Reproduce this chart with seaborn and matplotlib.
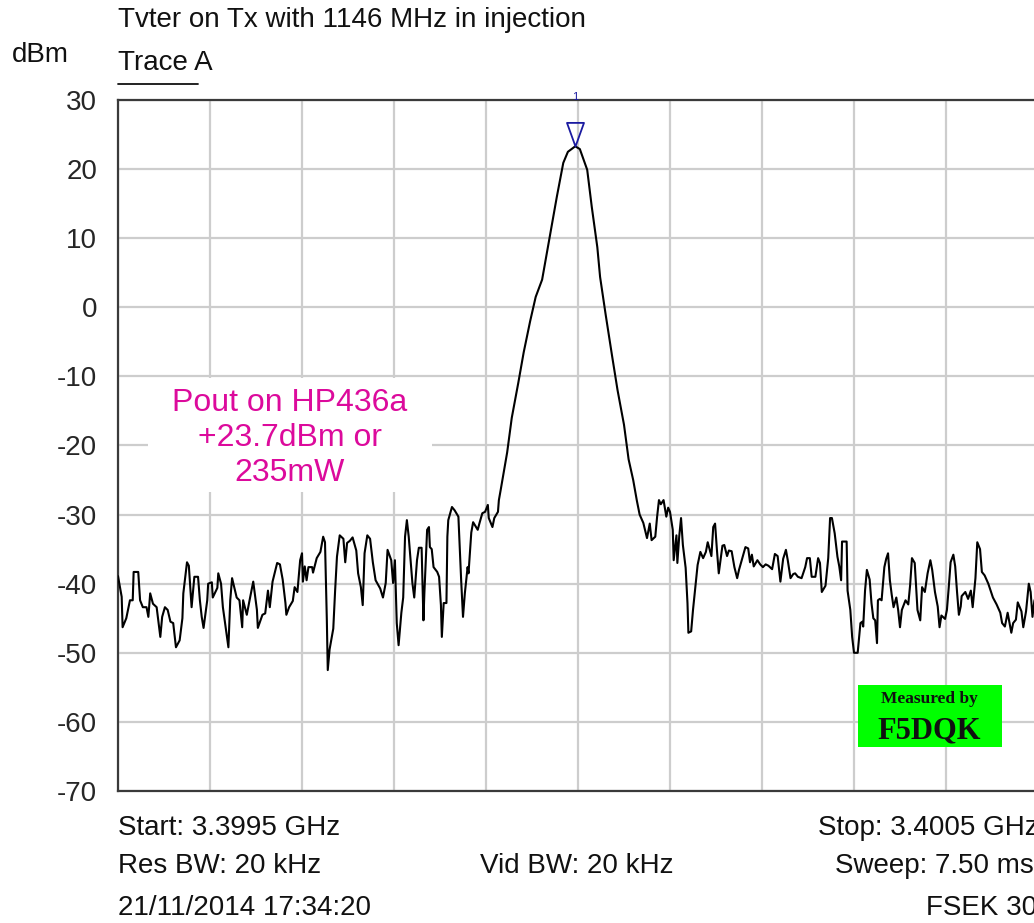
import numpy as np
import pandas as pd
import matplotlib
matplotlib.use("Agg")
import matplotlib.pyplot as plt
import seaborn as sns
from matplotlib.patches import Rectangle
from matplotlib.lines import Line2D
from matplotlib.path import Path

# ---------------- data ----------------
title = "Tvter on Tx with 1146 MHz in injection"
y_unit = "dBm"
trace_name = "Trace A"
y_ticks = [30, 20, 10, 0, -10, -20, -30, -40, -50, -60, -70]
x_grid_khz = [0, 100, 200, 300, 400, 500, 600, 700, 800, 900, 1000]

freq_khz = [0, 4, 5, 9, 13, 16, 17, 22, 24, 27, 31, 33, 35, 38, 42, 46, 48, 51, 54, 57,
            60, 63, 67, 70, 71, 75, 77, 80, 83, 87, 89, 91, 93, 97, 98, 102, 103, 108, 109, 112,
            114, 120, 122, 124, 126, 129, 132, 135, 136, 140, 143, 147, 151, 152, 157, 160, 163, 165, 168, 173,
            176, 179, 182, 183, 186, 190, 192, 195, 198, 200, 201, 203, 205, 207, 211, 212, 216, 220, 223, 225,
            227, 228, 230, 234, 236, 238, 241, 245, 247, 249, 252, 255, 259, 261, 264, 266, 268, 271, 274, 277,
            280, 285, 288, 291, 293, 297, 299, 301, 303, 305, 308, 310, 312, 314, 316, 320, 322, 325, 327, 330,
            332, 333, 336, 338, 339, 341, 343, 347, 349, 351, 352, 354, 357, 358, 359, 363, 366, 370, 373, 375,
            377, 380, 381, 384, 386, 390, 391, 393, 396, 399, 402, 403, 407, 409, 413, 414, 416, 423, 428, 435,
            441, 448, 454, 461, 470, 477, 484, 489, 497, 502, 510, 515, 521, 524, 530, 537, 543, 550, 555, 560,
            564, 567, 571, 575, 578, 580, 584, 586, 588, 590, 593, 596, 598, 600, 603, 604, 607, 608, 610, 612,
            614, 617, 619, 620, 623, 625, 628, 630, 633, 636, 639, 641, 645, 647, 649, 651, 653, 657, 659, 662,
            664, 667, 670, 673, 675, 678, 682, 685, 687, 689, 691, 695, 698, 701, 704, 707, 711, 714, 717, 720,
            723, 726, 728, 731, 734, 736, 739, 743, 747, 749, 752, 754, 758, 761, 763, 765, 769, 772, 774, 776,
            779, 782, 784, 786, 787, 792, 793, 796, 798, 800, 804, 807, 809, 810, 812, 814, 817, 819, 821, 823,
            825, 826, 828, 830, 833, 835, 837, 839, 841, 843, 846, 848, 850, 852, 856, 859, 861, 863, 866, 869,
            872, 874, 877, 880, 883, 885, 888, 891, 893, 895, 899, 901, 903, 905, 908, 910, 912, 914, 916, 917,
            921, 924, 927, 929, 932, 934, 937, 939, 942, 946, 949, 951, 955, 959, 961, 964, 967, 971, 973, 976,
            978, 982, 984, 987, 990, 992, 994, 996, 1000]

level_dbm = [-38.9, -41.9, -46.3, -45.0, -42.4, -42.4, -38.3, -38.3, -42.4, -43.4, -43.4, -44.8, -41.4, -42.9, -43.4, -47.7, -44.8, -43.4, -43.8, -45.5,
             -45.7, -49.2, -48.2, -45.0, -41.4, -36.9, -37.4, -43.4, -39.0, -39.0, -42.4, -44.8, -46.4, -42.4, -40.0, -39.8, -42.0, -40.6, -38.5, -40.0,
             -43.4, -49.2, -42.4, -39.2, -40.3, -42.0, -42.4, -46.3, -42.4, -44.5, -42.4, -39.7, -43.8, -46.4, -44.5, -44.3, -41.0, -43.4, -39.7, -37.0,
             -37.2, -39.4, -42.8, -44.5, -43.4, -42.5, -40.5, -41.2, -36.6, -35.6, -39.7, -37.5, -39.5, -37.6, -37.6, -38.4, -36.3, -35.4, -33.2, -34.0,
             -45.3, -52.5, -49.5, -46.5, -41.0, -36.1, -33.0, -33.5, -36.9, -34.1, -33.8, -33.3, -35.2, -38.5, -40.5, -43.1, -35.6, -33.0, -33.5, -36.9,
             -39.5, -40.7, -42.0, -39.9, -35.1, -36.6, -39.9, -36.6, -45.7, -48.9, -44.2, -42.0, -33.2, -30.8, -33.2, -39.9, -42.0, -36.6, -34.8, -34.8,
             -45.3, -41.4, -32.2, -31.8, -34.7, -35.0, -37.6, -38.3, -39.0, -43.1, -47.7, -42.8, -42.8, -33.2, -30.8, -28.9, -29.4, -30.3, -39.5, -44.8,
             -41.4, -37.6, -38.5, -32.6, -31.1, -32.0, -32.2, -31.2, -29.8, -29.6, -28.6, -30.5, -31.8, -30.5, -29.6, -27.9, -26.4, -21.0, -16.0, -11.0,
             -6.5, -2.0, 1.5, 4.0, 10.8, 16.0, 20.9, 22.5, 23.3, 22.9, 19.9, 14.5, 8.7, 4.4, -1.0, -7.0, -12.0, -17.0, -22.0, -25.0,
             -28.0, -30.0, -31.2, -33.4, -31.3, -33.7, -33.2, -30.3, -27.9, -28.5, -27.9, -30.3, -29.0, -29.6, -32.2, -36.6, -33.0, -37.0, -33.2, -30.5,
             -34.4, -37.7, -42.8, -47.1, -46.9, -43.8, -39.9, -37.3, -35.4, -36.3, -35.4, -34.0, -36.0, -31.8, -31.3, -35.1, -38.5, -34.5, -34.4, -36.0,
             -35.2, -35.3, -37.6, -39.2, -38.0, -36.6, -34.7, -34.9, -36.9, -35.8, -37.5, -36.6, -37.2, -37.6, -37.2, -37.4, -37.9, -35.7, -36.0, -39.7,
             -36.4, -35.1, -36.6, -39.2, -38.6, -38.5, -39.0, -39.2, -37.6, -36.3, -36.3, -39.0, -39.0, -36.3, -37.0, -41.2, -40.3, -36.3, -30.5, -30.5,
             -32.7, -36.1, -37.5, -39.5, -33.9, -33.9, -41.0, -43.8, -47.7, -50.0, -50.0, -45.7, -45.5, -46.2, -41.0, -38.0, -39.4, -42.8, -45.0, -45.3,
             -48.6, -42.4, -42.2, -42.4, -37.6, -36.4, -35.6, -39.5, -41.6, -43.4, -42.0, -43.8, -46.3, -43.8, -42.4, -43.0, -40.2, -36.3, -37.0, -43.8,
             -45.3, -40.5, -41.2, -38.5, -36.6, -38.0, -41.2, -43.3, -46.3, -44.6, -45.1, -43.8, -40.5, -36.9, -35.8, -37.5, -41.2, -44.5, -43.3, -41.8,
             -41.2, -42.2, -41.0, -43.4, -39.2, -34.0, -35.0, -38.3, -38.8, -40.0, -41.2, -42.0, -43.0, -44.2, -45.7, -46.2, -44.2, -47.1, -45.7, -45.2,
             -42.7, -44.0, -46.3, -44.0, -40.0, -41.2, -44.8, -42.5, -41.0]

marker_label = "1"
note_lines = "Pout on HP436a\n+23.7dBm or\n235mW"
badge_top = "Measured by"
badge_bottom = "F5DQK"
footer_left = ["Start: 3.3995 GHz", "Res BW: 20 kHz", "21/11/2014 17:34:20"]
footer_mid = "Vid BW: 20 kHz"
footer_right = ["Stop: 3.4005 GHz", "Sweep: 7.50 ms", "FSEK 30"]

df = pd.DataFrame({"freq_khz": freq_khz, "level_dbm": level_dbm})

# ---------------- style ----------------
sns.set_style("white")
plt.rcParams["font.family"] = ["Liberation Sans", "DejaVu Sans"]

W, H, DPI = 1034, 923, 100
fig = plt.figure(figsize=(W / DPI, H / DPI), dpi=DPI)
ax = fig.add_axes([118 / W, 1 - 791 / H, 920 / W, 691 / H])

sns.lineplot(data=df, x="freq_khz", y="level_dbm", ax=ax, color="black",
             linewidth=1.5, estimator=None, sort=False, zorder=3)

ax.set_xlim(0, 1000)
ax.set_ylim(-70, 30)
ax.set_xticks(x_grid_khz)
ax.set_xticklabels([])
ax.set_yticks(y_ticks)
ax.set_yticklabels([str(v) for v in y_ticks], fontsize=20)
ax.tick_params(axis="both", length=0)
ax.tick_params(axis="y", pad=15)
ax.set_xlabel("")
ax.set_ylabel("")
ax.grid(True, color="#cdcdcd", linewidth=1.6)
ax.set_axisbelow(True)
for s in ax.spines.values():
    s.set_color("#3a3a3a")
    s.set_linewidth(1.6)

# peak marker (triangle with tip on the peak)
i_peak = int(np.argmax(level_dbm))
px, py = freq_khz[i_peak], level_dbm[i_peak]
tri = Path([(-0.36, 1.0), (0.36, 1.0), (0.0, 0.0), (-0.36, 1.0)],
           [Path.MOVETO, Path.LINETO, Path.LINETO, Path.CLOSEPOLY])
ax.plot([px], [py], marker=tri, markersize=34, markerfacecolor="none",
        markeredgecolor="#1a1aa0", markeredgewidth=1.3, linestyle="none", zorder=4,
        clip_on=False)
ax.annotate(marker_label, xy=(px, 30), xytext=(0, 2), textcoords="offset points",
            ha="center", va="center", fontsize=8, color="#1a1aa0")

# white box + magenta note
ax.add_patch(Rectangle((30 / 920, (791 - 492) / 691), 284 / 920, 114 / 691,
                       transform=ax.transAxes, facecolor="white", edgecolor="none", zorder=1))
ax.text(172 / 920, (791 - 438) / 691, note_lines, transform=ax.transAxes,
        ha="center", va="center", fontsize=23, color="#dc0a9c", linespacing=1.2, zorder=2)

# green badge
ax.add_patch(Rectangle(((858 - 118) / 920, (791 - 747) / 691), 144 / 920, 62 / 691,
                       transform=ax.transAxes, facecolor="#00ff00", edgecolor="none", zorder=5))
bx = (929 - 118) / 920
ax.text(bx, (791 - 699) / 691, badge_top, transform=ax.transAxes, ha="center", va="center",
        fontsize=12.5, fontfamily="Liberation Serif", fontweight="bold", color="#101010", zorder=6)
ax.text(bx, (791 - 731) / 691, badge_bottom, transform=ax.transAxes, ha="center", va="center",
        fontsize=22, fontfamily="Liberation Serif", fontweight="bold", color="#101010", zorder=6)

# header texts
fig.text(118 / W, 1 - 20 / H, title, ha="left", va="center", fontsize=20, color="#111111")
fig.text(12 / W, 1 - 55 / H, y_unit, ha="left", va="center", fontsize=20, color="#111111")
fig.text(118 / W, 1 - 63 / H, trace_name, ha="left", va="center", fontsize=20, color="#111111")
fig.add_artist(Line2D([118 / W, 198 / W], [1 - 84 / H, 1 - 84 / H], color="#111111", linewidth=1.3))

# footer texts
for txt, yc in zip(footer_left, [828, 866, 908]):
    fig.text(118 / W, 1 - yc / H, txt, ha="left", va="center", fontsize=20, color="#111111")
fig.text(480 / W, 1 - 866 / H, footer_mid, ha="left", va="center", fontsize=20, color="#111111")
for txt, xs, yc in zip(footer_right, [818, 835, 926], [828, 866, 908]):
    fig.text(xs / W, 1 - yc / H, txt, ha="left", va="center", fontsize=20, color="#111111")

fig.savefig("out.png", dpi=DPI)
